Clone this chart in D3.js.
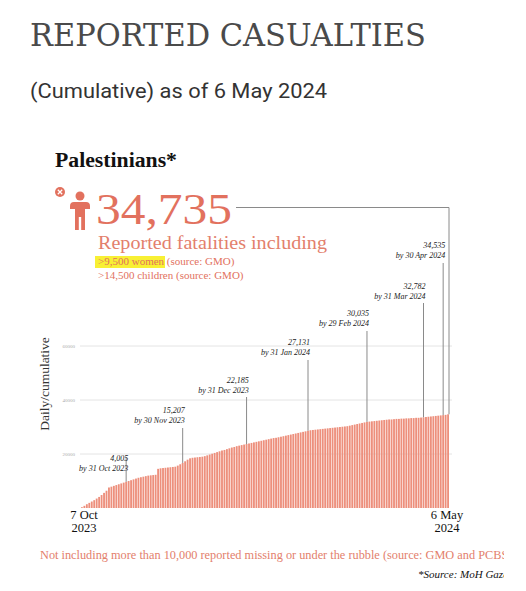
<!DOCTYPE html>
<html>
<head>
<meta charset="utf-8">
<script src="https://cdn.jsdelivr.net/npm/d3@7"></script>
<style>
  html, body { margin: 0; padding: 0; background: #fff; }
  svg { display: block; }
</style>
</head>
<body>
<div id="chart"></div>
<script>
// Cumulative reported fatalities, one value per bar
const barValues = [
  300, 800, 1400, 1900, 2400, 2900, 3500, 4100, 4800, 5600,
  6400, 7600, 7900, 8200, 8500, 8800, 9100, 9400, 9700, 10000,
  10300, 10600, 10900, 11200, 11400, 11600, 11800, 12000, 12100, 12200,
  12300, 14500, 14700, 14800, 14900, 15000, 15100, 15200, 15300, 15700,
  16200, 16700, 17300, 17900, 18400, 18600, 18700, 18800, 18900, 19000,
  19200, 19500, 19800, 20100, 20400, 20700, 21000, 21300, 21500, 21800,
  22100, 22400, 22600, 22900, 23100, 23300, 23500, 23700, 23900, 24100,
  24300, 24500, 24700, 24900, 25100, 25300, 25500, 25700, 25900, 26000,
  26200, 26400, 26600, 26800, 27000, 27200, 27400, 27600, 27800, 28000,
  28200, 28400, 28600, 28800, 28900, 29000, 29100, 29200, 29300, 29400,
  29500, 29600, 29700, 29800, 29900, 30000, 30100, 30200, 30300, 30500,
  30700, 30900, 31100, 31300, 31500, 31700, 31900, 32000, 32100, 32200,
  32300, 32400, 32500, 32600, 32700, 32800, 32800, 32900, 33000, 33000,
  33100, 33100, 33200, 33200, 33300, 33300, 33400, 33400, 33500, 33600,
  33700, 33800, 33900, 34000, 34100, 34200, 34300, 34400, 34500, 34700
];

// Monthly call-outs
const noteBar = [18, 41, 67, 92, 116, 139, 147];
const noteValue = ['4,005', '15,207', '22,185', '27,131', '30,035', '32,782', '34,535'];
const noteDate = ['by 31 Oct 2023', 'by 30 Nov 2023', 'by 31 Dec 2023', 'by 31 Jan 2024',
                  'by 29 Feb 2024', 'by 31 Mar 2024', 'by 30 Apr 2024'];

const yTicks = [20000, 40000, 60000];
const xStartLabel = ['7 Oct', '2023'];
const xEndLabel = ['6 May', '2024'];

const total = '34,735';
const fatalNotes = ['>14,500 children (source: GMO)'];

const W = 526, H = 591;
const red = '#e2715e';
const serif = '"Liberation Serif", "Times New Roman", serif';

const svg = d3.select('#chart')
  .append('svg')
  .attr('width', W)
  .attr('height', H);

// the embedded picture is cut on the right
svg.append('clipPath').attr('id', 'cut')
  .append('rect').attr('x', 0).attr('y', 0).attr('width', 504).attr('height', H);

// Titles
svg.append('text')
  .attr('x', 30).attr('y', 46)
  .attr('font-family', '"DejaVu Serif", serif')
  .attr('font-size', 32)
  .attr('fill', '#4a4a4a')
  .attr('textLength', 396)
  .attr('lengthAdjust', 'spacingAndGlyphs')
  .text('REPORTED CASUALTIES');

svg.append('text')
  .attr('x', 30).attr('y', 98)
  .attr('font-family', 'Roboto, sans-serif')
  .attr('font-size', 21)
  .attr('fill', '#333')
  .attr('textLength', 297)
  .attr('lengthAdjust', 'spacingAndGlyphs')
  .text('(Cumulative) as of 6 May 2024');

const g = svg.append('g').attr('clip-path', 'url(#cut)');

g.append('text')
  .attr('x', 55).attr('y', 167)
  .attr('font-family', serif)
  .attr('font-weight', 'bold')
  .attr('font-size', 20)
  .attr('fill', '#111')
  .attr('textLength', 122)
  .attr('lengthAdjust', 'spacingAndGlyphs')
  .text('Palestinians*');

// Person icon with the small x badge
const icon = g.append('g').attr('fill', red);
icon.append('circle').attr('cx', 80).attr('cy', 196).attr('r', 4.5);
icon.append('path')
  .attr('d', 'M70,206 Q70,202 74,202 L86,202 Q90,202 90,206 L90,209 L85,209 L85,230 L81.2,230 L81.2,217 L78.8,217 L78.8,230 L75,230 L75,209 L70,209 Z');
icon.append('circle').attr('cx', 60).attr('cy', 192).attr('r', 5);
icon.append('path')
  .attr('d', 'M57.8,189.8 L62.2,194.2 M62.2,189.8 L57.8,194.2')
  .attr('stroke', '#fff').attr('stroke-width', 1.3);

g.append('text')
  .attr('x', 96).attr('y', 224)
  .attr('font-family', serif)
  .attr('font-size', 44)
  .attr('fill', red)
  .attr('textLength', 136)
  .attr('lengthAdjust', 'spacingAndGlyphs')
  .text(total);

g.append('text')
  .attr('x', 98).attr('y', 249)
  .attr('font-family', serif)
  .attr('font-size', 19)
  .attr('fill', '#e3806c')
  .attr('textLength', 229)
  .attr('lengthAdjust', 'spacingAndGlyphs')
  .text('Reported fatalities including');

// highlighted women line
g.append('rect')
  .attr('x', 95).attr('y', 256).attr('width', 70).attr('height', 12)
  .attr('fill', '#f8f034');
g.append('text')
  .attr('x', 98).attr('y', 265)
  .attr('font-family', serif)
  .attr('font-size', 11)
  .attr('fill', red)
  .text('>9,500 women (source: GMO)');
g.selectAll('text.fn')
  .data(fatalNotes)
  .enter()
  .append('text')
  .attr('class', 'fn')
  .attr('x', 98).attr('y', (d, i) => 279 + i * 14)
  .attr('font-family', serif)
  .attr('font-size', 11)
  .attr('fill', red)
  .text(d => d);

// Scales
const x = d3.scaleBand()
  .domain(d3.range(barValues.length))
  .range([81, 449])
  .paddingInner(0.25);

const y = d3.scaleLinear()
  .domain([0, 60000])
  .range([508, 346]);

// grid + tiny tick labels
g.selectAll('line.grid')
  .data(yTicks)
  .enter()
  .append('line')
  .attr('class', 'grid')
  .attr('x1', 80).attr('x2', 452)
  .attr('y1', d => y(d)).attr('y2', d => y(d))
  .attr('stroke', '#e4e4e4')
  .attr('stroke-width', 1);

g.selectAll('text.tick')
  .data(yTicks)
  .enter()
  .append('text')
  .attr('class', 'tick')
  .attr('x', 75).attr('y', d => y(d) + 1.5)
  .attr('text-anchor', 'end')
  .attr('font-family', serif)
  .attr('font-size', 5)
  .attr('fill', '#aaa')
  .text(d => d);

g.append('text')
  .attr('transform', 'translate(49,384) rotate(-90)')
  .attr('text-anchor', 'middle')
  .attr('font-family', serif)
  .attr('font-size', 13.5)
  .attr('fill', '#333')
  .text('Daily/cumulative');

// Bars
g.selectAll('rect.bar')
  .data(barValues)
  .enter()
  .append('rect')
  .attr('class', 'bar')
  .attr('x', (d, i) => x(i))
  .attr('width', x.bandwidth())
  .attr('y', d => y(d))
  .attr('height', d => y(0) - y(d))
  .attr('fill', '#ed8f7c');

// Line from the big total down to the last bar
const lastX = x(barValues.length - 1) + x.bandwidth();
g.append('path')
  .attr('d', `M236,207.5 H${lastX} V${y(barValues[barValues.length - 1])}`)
  .attr('fill', 'none')
  .attr('stroke', '#8a8a8a')
  .attr('stroke-width', 1);

// Call-outs
const noteY = [461, 413, 383, 345, 316, 289, 248];
const noteLineTop = [457, 428, 397, 360, 331, 303, 263];

const notes = g.selectAll('g.note')
  .data(noteBar)
  .enter()
  .append('g')
  .attr('class', 'note');

notes.append('line')
  .attr('x1', d => x(d) + x.bandwidth() / 2)
  .attr('x2', d => x(d) + x.bandwidth() / 2)
  .attr('y1', (d, i) => noteLineTop[i])
  .attr('y2', d => y(barValues[d]))
  .attr('stroke', '#8a8a8a')
  .attr('stroke-width', 1);

notes.append('text')
  .attr('x', d => x(d) + 3)
  .attr('y', (d, i) => noteY[i])
  .attr('text-anchor', 'end')
  .attr('font-family', serif)
  .attr('font-style', 'italic')
  .attr('font-size', 8)
  .attr('fill', '#222')
  .text((d, i) => noteValue[i]);

notes.append('text')
  .attr('x', d => x(d) + 3)
  .attr('y', (d, i) => noteY[i] + 10)
  .attr('text-anchor', 'end')
  .attr('font-family', serif)
  .attr('font-style', 'italic')
  .attr('font-size', 8)
  .attr('fill', '#222')
  .text((d, i) => noteDate[i]);

// x end labels
g.selectAll('text.xs')
  .data(xStartLabel)
  .enter()
  .append('text')
  .attr('class', 'xs')
  .attr('x', x(0) + 3).attr('y', (d, i) => 519 + i * 13)
  .attr('text-anchor', 'middle')
  .attr('font-family', serif)
  .attr('font-size', 12.5)
  .attr('fill', '#111')
  .text(d => d);

g.selectAll('text.xe')
  .data(xEndLabel)
  .enter()
  .append('text')
  .attr('class', 'xe')
  .attr('x', lastX - 2).attr('y', (d, i) => 519 + i * 13)
  .attr('text-anchor', 'middle')
  .attr('font-family', serif)
  .attr('font-size', 12.5)
  .attr('fill', '#111')
  .text(d => d);

// Footnotes
g.append('text')
  .attr('x', 40).attr('y', 559)
  .attr('font-family', serif)
  .attr('font-size', 12.3)
  .attr('fill', '#e3806c')
  .text('Not including more than 10,000 reported missing or under the rubble (source: GMO and PCBS)');

g.append('text')
  .attr('x', 418).attr('y', 578)
  .attr('font-family', serif)
  .attr('font-style', 'italic')
  .attr('font-size', 11)
  .attr('fill', '#111')
  .text('*Source: MoH Gaza');
</script>
</body>
</html>
